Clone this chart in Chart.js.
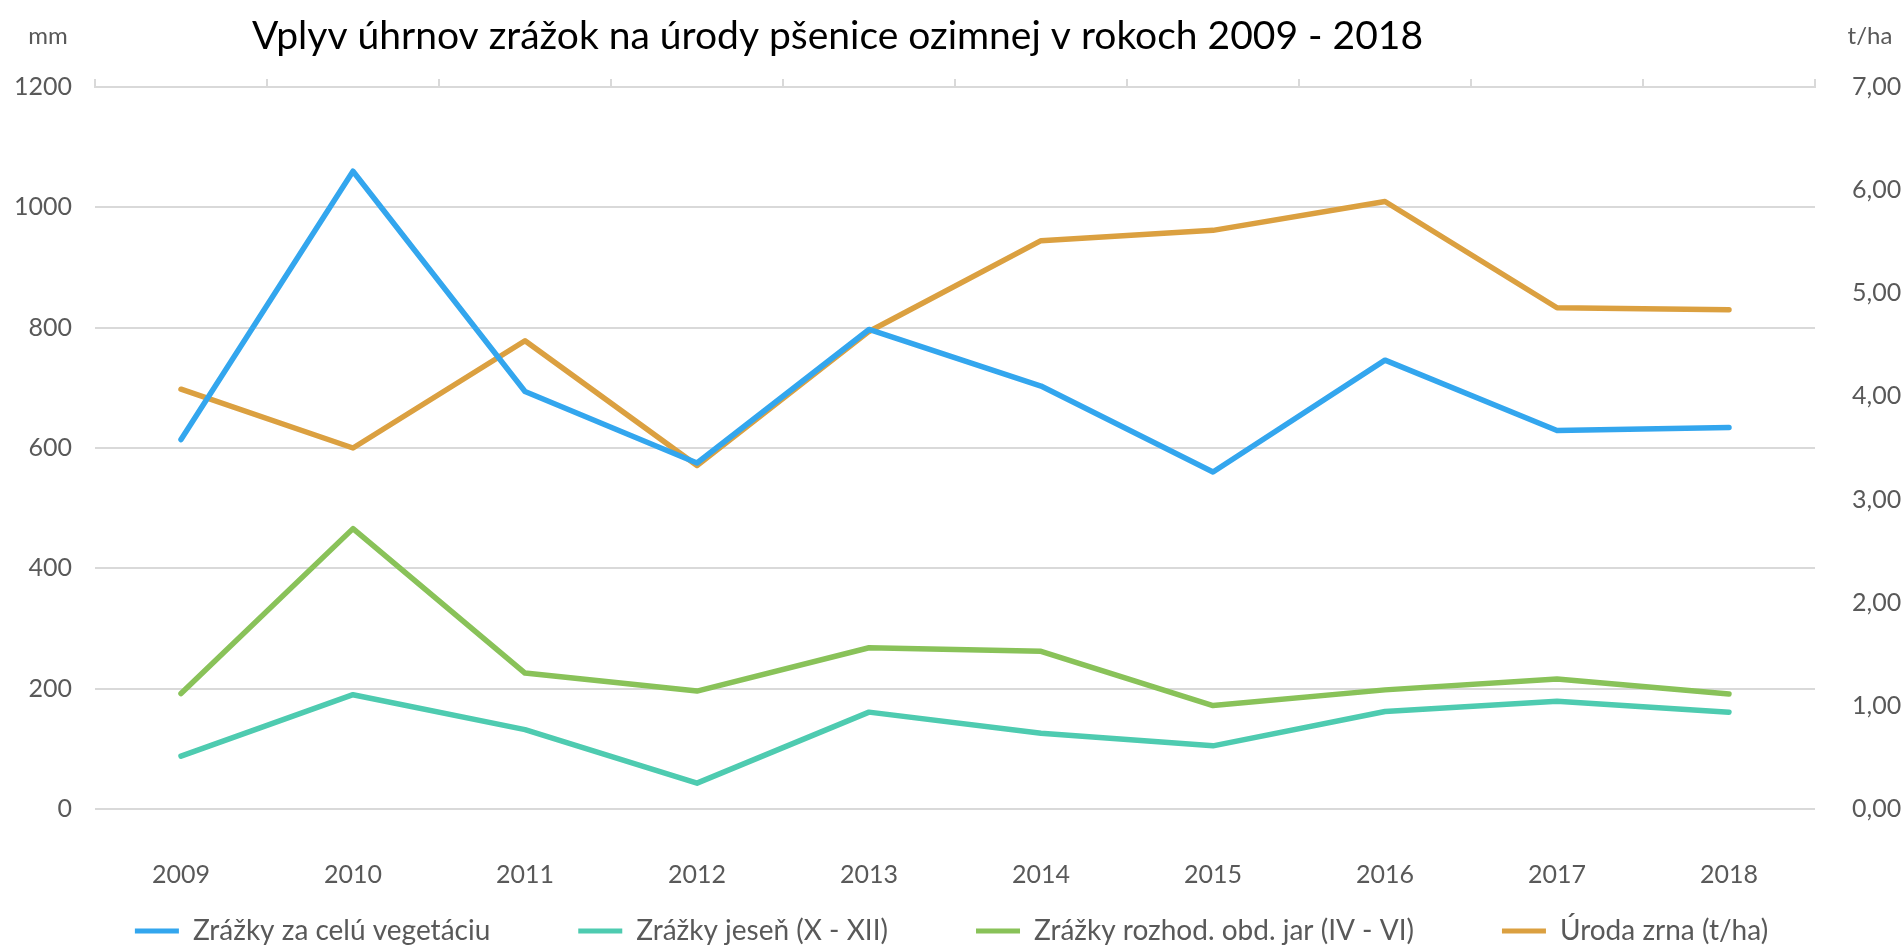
<!DOCTYPE html>
<html>
<head>
<meta charset="utf-8">
<script src="https://cdn.jsdelivr.net/npm/chart.js@4"></script>
<style>
  html, body { margin: 0; padding: 0; background: #fff; }
  #wrap { width: 1903px; height: 947px; }
</style>
</head>
<body>
<div id="wrap"><canvas id="graf" width="1903" height="947"></canvas></div>
<script>
// roky
const roky = ["2009", "2010", "2011", "2012", "2013", "2014", "2015", "2016", "2017", "2018"];

// zrážky v mm (ľavá os)
const zrazkyVegetacia = [614, 1060, 694, 575, 797, 703, 560, 746, 629, 634];
const zrazkyJesen = [88, 190, 132, 43, 161, 126, 105, 162, 179, 161];
const zrazkyJar = [192, 466, 226, 196, 268, 262, 172, 198, 216, 191];

// úroda v t/ha (pravá os)
const urodaZrna = [4.07, 3.50, 4.54, 3.33, 4.63, 5.51, 5.61, 5.89, 4.86, 4.84];

// popisy osí
const lavaOsTicks = [0, 200, 400, 600, 800, 1000, 1200];
const pravaOsTicks = [0, 1, 2, 3, 4, 5, 6, 7];

const font = "Lato";
const sedaText = "#595959";
const sedaMriezka = "#d9d9d9";

// nadpis a jednotky osí
const nadpisPlugin = {
  id: "nadpis",
  afterDraw(chart) {
    const c = chart.ctx;
    c.save();
    c.textBaseline = "middle";
    c.fillStyle = "#000";
    c.font = "39px " + font;
    c.textAlign = "left";
    c.fillText("Vplyv úhrnov zrážok na úrody pšenice ozimnej v rokoch 2009 - 2018", 252, 36);
    c.fillStyle = sedaText;
    c.font = "24px " + font;
    c.textAlign = "center";
    c.fillText("mm", 48, 36);
    c.fillText("t/ha", 1870, 36);
    c.restore();
  }
};

function riadok(label, data, color, axis) {
  return {
    label: label,
    data: data,
    borderColor: color,
    backgroundColor: color,
    borderWidth: 5.5,
    borderCapStyle: "round",
    borderJoinStyle: "round",
    pointRadius: 0,
    pointHoverRadius: 0,
    tension: 0,
    yAxisID: axis
  };
}

const medzera = "\u2003\u2003\u2003\u2003";

new Chart(document.getElementById("graf").getContext("2d"), {
  type: "line",
  data: {
    labels: roky,
    datasets: [
      riadok("Zrážky za celú vegetáciu", zrazkyVegetacia, "#33a6ee", "y"),
      riadok("Zrážky jeseň (X - XII)", zrazkyJesen, "#4ecbb0", "y"),
      riadok("Zrážky rozhod. obd. jar (IV - VI)", zrazkyJar, "#89c259", "y"),
      riadok("Úroda zrna (t/ha)", urodaZrna, "#dba040", "y1")
    ]
  },
  options: {
    responsive: false,
    animation: false,
    events: [],
    layout: { padding: { top: 79, left: 0, right: 0, bottom: -8 } },
    plugins: {
      title: { display: false },
      tooltip: { enabled: false },
      legend: {
        position: "bottom",
        labels: {
          color: sedaText,
          font: { family: font, size: 28 },
          boxWidth: 44,
          boxHeight: 5,
          padding: 4,
          generateLabels(chart) {
            const items = Chart.defaults.plugins.legend.labels.generateLabels(chart);
            items.forEach((it, i) => {
              it.lineWidth = 0;
              if (i < items.length - 1) it.text = it.text + medzera;
            });
            return items;
          }
        }
      }
    },
    scales: {
      x: {
        position: "bottom",
        offset: true,
        grid: { display: false },
        border: { display: false },
        ticks: { color: sedaText, font: { family: font, size: 25 }, padding: 43, maxRotation: 0 },
        afterFit(s) { s.height = 104; }
      },
      x2: {
        type: "category",
        labels: roky,
        position: "top",
        offset: true,
        grid: { offset: true, drawOnChartArea: false, drawTicks: true, tickLength: 8, color: sedaMriezka, lineWidth: 2 },
        border: { display: true, color: sedaMriezka, width: 2 },
        ticks: { display: false },
        afterFit(s) { s.height = 8; }
      },
      y: {
        position: "left",
        min: 0,
        max: 1200,
        afterBuildTicks(s) { s.ticks = lavaOsTicks.map(v => ({ value: v })); },
        grid: { color: sedaMriezka, lineWidth: 2, drawTicks: false },
        border: { display: false },
        ticks: {
          color: sedaText,
          font: { family: font, size: 25 },
          padding: 23,
          callback: v => String(v)
        },
        afterFit(s) { s.width = 95; }
      },
      y1: {
        position: "right",
        min: 0,
        max: 7,
        afterBuildTicks(s) { s.ticks = pravaOsTicks.map(v => ({ value: v })); },
        grid: { drawOnChartArea: false, drawTicks: false },
        border: { display: false },
        ticks: {
          color: sedaText,
          font: { family: font, size: 25 },
          padding: 37,
          callback: v => Number(v).toFixed(2).replace(".", ",")
        },
        afterFit(s) { s.width = 88; }
      }
    }
  },
  plugins: [nadpisPlugin]
});
</script>
</body>
</html>
